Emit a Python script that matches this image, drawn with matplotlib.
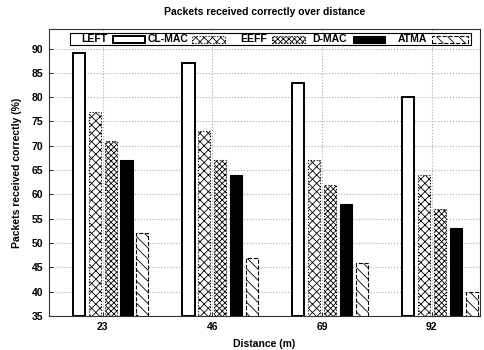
import numpy as np
import matplotlib
matplotlib.use("Agg")
import matplotlib.pyplot as plt
from matplotlib.patches import Rectangle

distances = ["23", "46", "69", "92"]
series = ["LEFT", "CL-MAC", "EEFF", "D-MAC", "ATMA"]
left = [89, 87, 83, 80]
clmac = [77, 73, 67, 64]
eeff = [71, 67, 62, 57]
dmac = [67, 64, 58, 53]
atma = [52, 47, 46, 40]
values = [left, clmac, eeff, dmac, atma]

# look of each series (gnuplot-ish patterns)
faces = ["white", "white", "white", "black", "white"]
hatches = [None, "xxxx", "xxxxxx", None, "\\\\\\"]
styles = ["-", ":", ":", "-", "--"]
widths = [1.4, 0.8, 0.8, 0.8, 0.8]

plt.rcParams["font.family"] = ["Liberation Sans", "DejaVu Sans"]
plt.rcParams["font.weight"] = "bold"
plt.rcParams["hatch.linewidth"] = 0.6

fs = 7.5
fig = plt.figure(figsize=(4.84, 3.5), dpi=100)
ax = fig.add_axes([0.101, 0.097, 0.891, 0.82])

x = np.arange(len(distances))
step = 0.145
bw = 0.11
for i, name in enumerate(series):
    pos = x + (i - 1.5) * step
    ax.bar(pos, np.array(values[i]) - 35, bottom=35, width=bw,
           color=faces[i], edgecolor="black", hatch=hatches[i],
           linestyle=styles[i], linewidth=widths[i], label=name, zorder=3)

ax.set_xlim(-0.49, 3.44)
ax.set_ylim(35, 94)
ax.set_xticks(x)
ax.set_xticklabels(distances)
ax.set_yticks(np.arange(35, 91, 5))
ax.tick_params(labelsize=fs, direction="in", length=3, width=0.6, pad=4)
for lab in ax.get_xticklabels() + ax.get_yticklabels():
    lab.set_fontweight("bold")
ax.grid(True, color="#aaaaaa", linestyle=":", linewidth=0.8, zorder=0)
ax.set_axisbelow(True)
for s in ax.spines.values():
    s.set_linewidth(0.8)
    s.set_color("#333333")

ax.set_title("Packets received correctly over distance", fontsize=fs,
             fontweight="bold", pad=10)
ax.set_xlabel("Distance (m)", fontsize=fs, fontweight="bold", labelpad=5)
ax.set_ylabel("Packets received correctly (%)", fontsize=fs,
              fontweight="bold", labelpad=7)

# legend drawn by hand, gnuplot style: label then swatch, one row
def px(v):
    return (v - 49) / 431.0

ax.add_patch(Rectangle((px(70), 0.944), px(471) - px(70), 0.042,
                       transform=ax.transAxes, facecolor="white",
                       edgecolor="black", linewidth=0.8, zorder=6,
                       clip_on=False))
sw_left = [113, 192, 272, 353, 432]
sw_right = [145, 225, 305, 385, 468]
txt_right = [107, 188, 267, 347, 427]
for i, name in enumerate(series):
    ax.add_patch(Rectangle((px(sw_left[i]), 0.952),
                           px(sw_right[i]) - px(sw_left[i]), 0.024,
                           transform=ax.transAxes, facecolor=faces[i],
                           edgecolor="black", hatch=hatches[i],
                           linestyle=styles[i], linewidth=widths[i],
                           zorder=7, clip_on=False))
    ax.text(px(txt_right[i]), 0.965, name, transform=ax.transAxes,
            ha="right", va="center", fontsize=fs, fontweight="bold",
            zorder=8)

fig.savefig("out.png", dpi=100)
